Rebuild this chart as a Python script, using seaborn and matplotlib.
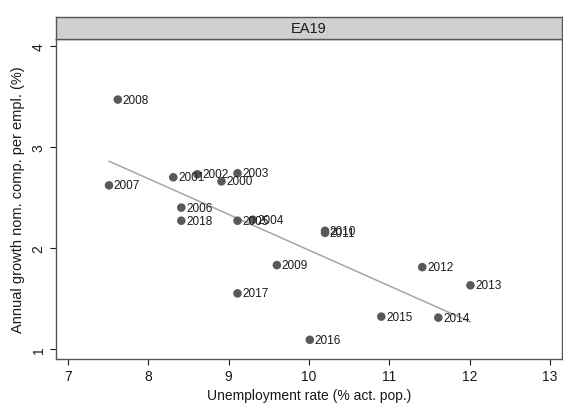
import pandas as pd
import matplotlib
matplotlib.use('Agg')
import matplotlib.pyplot as plt
import seaborn as sns

# datos
anios = ['2000', '2001', '2002', '2003', '2004', '2005', '2006', '2007', '2008', '2009',
         '2010', '2011', '2012', '2013', '2014', '2015', '2016', '2017', '2018']
desempleo = [8.91, 8.31, 8.61, 9.11, 9.30, 9.11, 8.41, 7.51, 7.62, 9.60,
             10.20, 10.20, 11.41, 12.01, 11.61, 10.90, 10.01, 9.11, 8.41]
salarios = [2.66, 2.70, 2.73, 2.74, 2.28, 2.27, 2.40, 2.62, 3.47, 1.83,
            2.17, 2.15, 1.81, 1.63, 1.31, 1.32, 1.09, 1.55, 2.27]

df = pd.DataFrame({'anio': anios, 'u': desempleo, 'w': salarios})

sns.set_style('white')
plt.rcParams['font.family'] = ['Liberation Sans', 'DejaVu Sans']

fig = plt.figure(figsize=(5.63, 4.06), dpi=100)
ax = fig.add_axes([56 / 563, 46 / 406, 506 / 563, 320 / 406])

sns.regplot(data=df, x='u', y='w', ci=None, scatter=False, ax=ax,
            line_kws={'color': '#a6a6a6', 'lw': 1.1})
sns.scatterplot(data=df, x='u', y='w', ax=ax, color='#595959', s=38,
                edgecolor='none', zorder=3)
for _, r in df.iterrows():
    ax.annotate(r['anio'], (r['u'], r['w']), xytext=(3.5, 0), textcoords='offset points',
                va='center', ha='left', fontsize=8.5, color='#1a1a1a')

ax.set_xlim(6.85, 13.15)
ax.set_ylim(0.9, 4.07)
ax.set_xticks([7, 8, 9, 10, 11, 12, 13])
ax.set_yticks([1, 2, 3, 4])
ax.tick_params(axis='both', direction='out', length=4, width=0.8, colors='#1a1a1a',
               labelsize=10, bottom=True, left=True)
for lab in ax.get_yticklabels():
    lab.set_rotation(90)
    lab.set_va('center')
ax.set_xlabel('Unemployment rate (% act. pop.)', fontsize=10, color='#1a1a1a', labelpad=3)
ax.set_ylabel('Annual growth nom. comp. per empl. (%)', fontsize=10.5, color='#1a1a1a', labelpad=5)
for s in ax.spines.values():
    s.set_color('#555555')
    s.set_linewidth(1)

# franja del titulo
strip = fig.add_axes([56 / 563, 366 / 406, 506 / 563, 22 / 406])
strip.set_facecolor('#d0d0d0')
strip.set_xticks([])
strip.set_yticks([])
for s in strip.spines.values():
    s.set_color('#555555')
    s.set_linewidth(1)
strip.text(0.5, 0.5, 'EA19', ha='center', va='center', fontsize=10.5, color='#1a1a1a',
           transform=strip.transAxes)

fig.savefig('out.png', dpi=100)
